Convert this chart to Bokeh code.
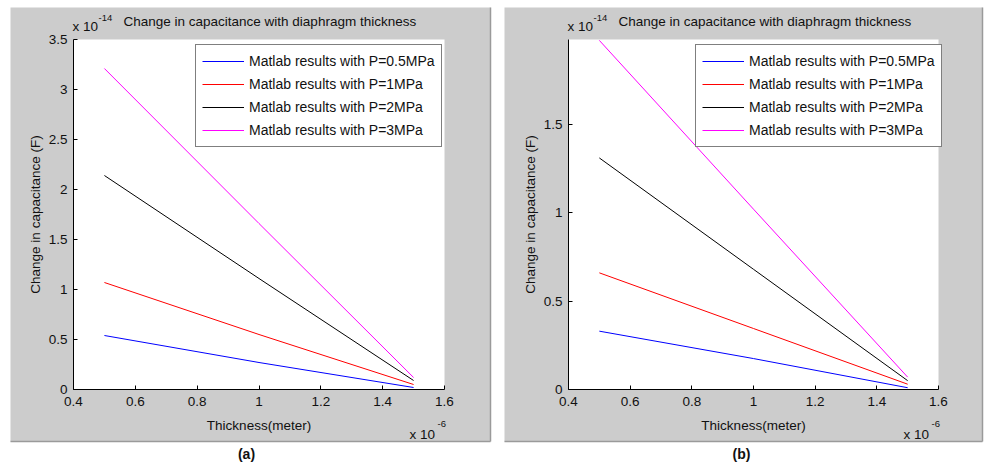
import math
from bokeh.plotting import figure
from bokeh.models import (Range1d, FixedTicker, CustomJSTickFormatter, Label,
                          Legend, LegendItem, LinearAxis)
from bokeh.embed import file_html
from bokeh.resources import INLINE

# ---- data (x in units of 1e-6 m, y in units of 1e-14 F) ----
thickness = [0.5, 1.0, 1.5]
series_names = ["Matlab results with P=0.5MPa", "Matlab results with P=1MPa",
                "Matlab results with P=2MPa", "Matlab results with P=3MPa"]
series_colors = ["#0000ff", "#ff0000", "#000000", "#ff00ff"]

a_p05 = [0.54, 0.27, 0.02]
a_p1 = [1.07, 0.55, 0.05]
a_p2 = [2.14, 1.11, 0.09]
a_p3 = [3.21, 1.66, 0.12]

b_p05 = [0.33, 0.175, 0.01]
b_p1 = [0.66, 0.345, 0.03]
b_p2 = [1.31, 0.68, 0.05]
b_p3 = [1.975, 1.02, 0.07]

x_ticks = [0.4, 0.6, 0.8, 1.0, 1.2, 1.4, 1.6]
a_y_ticks = [0, 0.5, 1, 1.5, 2, 2.5, 3, 3.5]
b_y_ticks = [0, 0.5, 1, 1.5]
x_lo, x_hi = 0.4, 1.6
a_ymax, b_ymax = 3.5, 1.98

title_text = "Change in capacitance with diaphragm thickness"
x_label = "Thickness(meter)"
y_label = "Change in capacitance (F)"

# ---- page layout in pixels (y measured from the top) ----
W, H = 984, 465
A_L, A_R, B_L, B_R = 73, 444, 568, 938
TOP, BOT = 39, 389
FONT = "Liberation Sans"
GRAY = "#cccccc"
TXT = "#111111"


def x_span(pl, pr):
    k = (x_hi - x_lo) / (pr - pl)
    return x_lo - pl * k, x_hi + (W - pr) * k


def y_span(ymax):
    k = ymax / (BOT - TOP)
    return 0 - (H - BOT) * k, ymax + TOP * k


p = figure(width=W, height=H, output_backend="svg", toolbar_location=None,
           x_range=Range1d(*x_span(A_L, A_R)), y_range=Range1d(*y_span(a_ymax)),
           x_axis_location=None, y_axis_location=None, min_border=0,
           outline_line_color=None, background_fill_color="white",
           border_fill_color="white")
p.extra_x_ranges = {"bx": Range1d(*x_span(B_L, B_R)), "px": Range1d(0, W)}
p.extra_y_ranges = {"by": Range1d(*y_span(b_ymax)), "px": Range1d(H, 0)}
p.grid.visible = False

# gray figure panels and white axes areas
p.quad(left=[10, 504], right=[490, 982], top=[7, 7], bottom=[441, 441],
       fill_color=GRAY, line_color=None, x_range_name="px", y_range_name="px")
p.segment(x0=[490, 10, 982, 504], y0=[7, 441, 7, 441],
          x1=[490, 490, 982, 982], y1=[441, 441, 441, 441],
          line_color="#9a9a9a", line_width=1.5, x_range_name="px", y_range_name="px")
p.quad(left=[x_lo], right=[x_hi], bottom=[0], top=[a_ymax],
       fill_color="white", line_color=None)
p.quad(left=[x_lo], right=[x_hi], bottom=[0], top=[b_ymax],
       fill_color="white", line_color=None, x_range_name="bx", y_range_name="by")

fmt = CustomJSTickFormatter(code="return String(Math.round(tick*10)/10)")


def style_axis(ax, ticks, standoff):
    ax.ticker = FixedTicker(ticks=ticks)
    ax.formatter = fmt
    ax.major_tick_in = 4
    ax.major_tick_out = 0
    ax.minor_tick_line_color = None
    ax.axis_line_color = "#000000"
    ax.major_tick_line_color = "#000000"
    ax.major_label_text_font = FONT
    ax.major_label_text_font_size = "13.5px"
    ax.major_label_text_color = TXT
    ax.major_label_standoff = standoff


xa = LinearAxis(fixed_location=0, bounds=(x_lo, x_hi))
ya = LinearAxis(fixed_location=x_lo, bounds=(0, a_ymax))
xb = LinearAxis(fixed_location=0, bounds=(x_lo, x_hi), x_range_name="bx", y_range_name="by")
yb = LinearAxis(fixed_location=x_lo, bounds=(0, b_ymax), x_range_name="bx", y_range_name="by")
style_axis(xa, x_ticks, 7)
style_axis(xb, x_ticks, 7)
style_axis(ya, a_y_ticks, 6)
style_axis(yb, b_y_ticks, 6)
p.add_layout(xa, "below")
p.add_layout(xb, "below")
p.add_layout(ya, "left")
p.add_layout(yb, "left")


def add_legend(items, loc):
    leg = Legend(items=items, location=loc,
                 border_line_color="#000000", border_line_width=1,
                 background_fill_color="white", background_fill_alpha=1,
                 label_text_font=FONT, label_text_font_size="14px",
                 label_text_color=TXT,
                 glyph_width=42, glyph_height=20, label_height=20,
                 label_standoff=5, spacing=3, padding=6, margin=0)
    p.add_layout(leg, "center")


items_a = []
for vals, name, col in zip([a_p05, a_p1, a_p2, a_p3], series_names, series_colors):
    r = p.line(thickness, vals, line_color=col, line_width=1)
    items_a.append(LegendItem(label=name, renderers=[r]))
items_b = []
for vals, name, col in zip([b_p05, b_p1, b_p2, b_p3], series_names, series_colors):
    r = p.line(thickness, vals, line_color=col, line_width=1,
               x_range_name="bx", y_range_name="by")
    items_b.append(LegendItem(label=name, renderers=[r]))
add_legend(items_a, (195, H - 147))
add_legend(items_b, (695, H - 147))


def lab(x, y, text, size="13.5px", align="left", angle=0.0, style="normal"):
    p.add_layout(Label(x=x, y=y, x_range_name="px", y_range_name="px", text=text,
                       text_font=FONT, text_font_size=size, text_align=align,
                       text_baseline="middle", angle=angle, text_color=TXT,
                       text_font_style=style))


for left, right, tag in ((A_L, A_R, "(a)"), (B_L, B_R, "(b)")):
    lab(left - 1, 26, "x 10")
    lab(left + 25, 17, "-14", size="9.5px")
    lab(left + 50, 21, title_text)
    lab(left - 38, (TOP + BOT) / 2, y_label, align="center", angle=math.pi / 2)
    lab((left + right) / 2, 425, x_label, align="center")
    lab(right - 35, 434, "x 10")
    lab(right - 7, 423, "-6", size="9.5px")
    lab(left + 173, 453, tag, size="14px", align="center", style="bold")

open("out.html", "w").write(file_html(p, INLINE))
